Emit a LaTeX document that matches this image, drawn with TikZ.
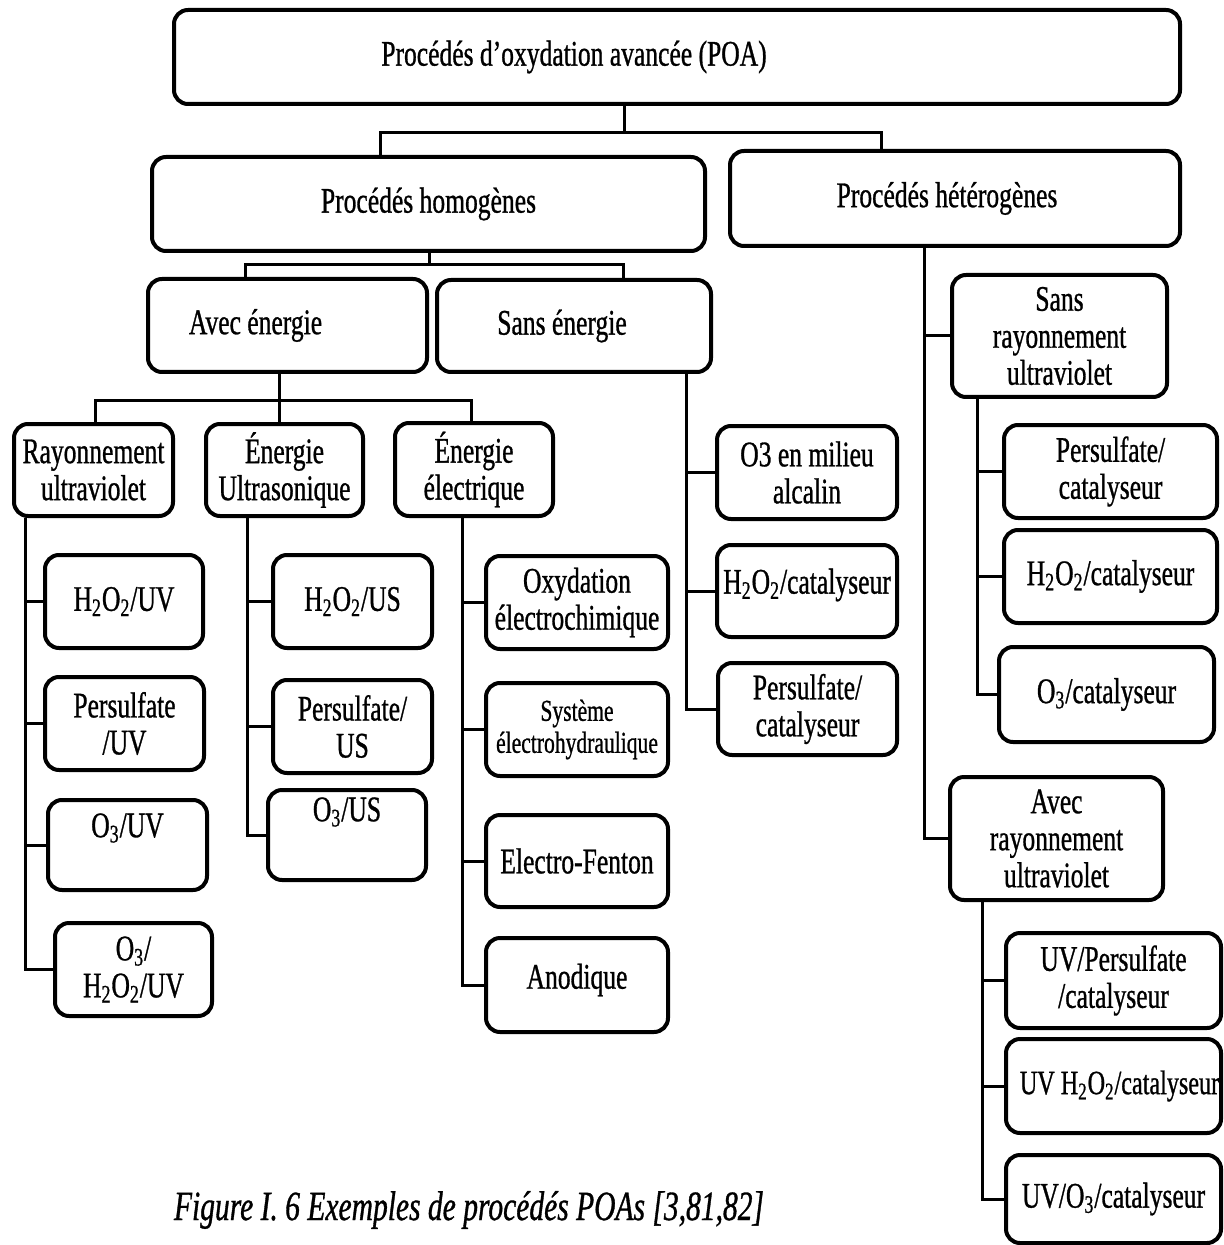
\documentclass[tikz,border=0pt]{standalone}
\usepackage{fontspec}
\setmainfont{Liberation Serif}[FakeStretch=0.71,FakeBold=0.8]

\begin{document}
\begin{tikzpicture}[x=0.5pt,y=-0.5pt,
  box/.style={draw,line width=2pt,rounded corners=7pt,align=center,
    inner sep=0pt,font=\fontsize{18}{18.5}\selectfont},
  wh/.style 2 args={minimum width=#1*0.5pt,minimum height=#2*0.5pt},
  small/.style={font=\fontsize{15.2}{16}\selectfont},
  link/.style={line width=1.5pt}]
  \useasboundingbox[fill=white] (0,0) rectangle (1223,1245);
  % --- top levels ---
  \node[box,wh={1006}{94}] (poa) at (677,57)
       {Procédés d'oxydation avancée (POA)\rule{103pt}{0pt}};
  \node[box,wh={553}{94}] (homo) at (428.5,204) {Procédés homogènes};
  \node[box,wh={450}{95}] (het) at (955,198.5) {Procédés hétérogènes\rule{8pt}{0pt}};
  \node[box,wh={279}{93}] (avec) at (287.5,325.5) {Avec énergie\rule{32pt}{0pt}};
  \node[box,wh={274}{92}] (sans) at (574,326) {Sans énergie\rule{12pt}{0pt}};
  % --- avec energie ---
  \node[box,wh={159}{92}] (ray) at (93.5,470) {Rayonnement\\ultraviolet};
  \node[box,wh={157}{92}] (ultra) at (284.5,470) {Énergie\\Ultrasonique};
  \node[box,wh={158}{93}] (elec) at (474,469.5) {Énergie\\électrique};
  % rayonnement column
  \node[box,wh={158}{93}] (h2o2uv) at (124,601.5)
       {H\textsubscript{2}O\textsubscript{2}/UV};
  \node[box,wh={159}{93}] (persuv) at (124.5,723.5) {Persulfate\\/UV};
  \node[box,wh={159}{90}] (o3uv) at (127.5,845)
       {\raisebox{8.5pt}[\height][\depth]{O\textsubscript{3}/UV}};
  \node[box,wh={157}{93}] (o3h2o2uv) at (133.5,969.5)
       {O\textsubscript{3}/\\H\textsubscript{2}O\textsubscript{2}/UV};
  % ultrasons column
  \node[box,wh={159}{93}] (h2o2us) at (352.5,601.5)
       {H\textsubscript{2}O\textsubscript{2}/US};
  \node[box,wh={159}{93}] (persus) at (352.5,726.5) {Persulfate/\\US};
  \node[box,wh={158}{90}] (o3us) at (347,835)
       {\raisebox{11.5pt}[\height][\depth]{O\textsubscript{3}/US}};
  % electrique column
  \node[box,wh={182}{93}] (oxy) at (577,602.5) {Oxydation\\électrochimique};
  \node[box,small,wh={182}{93}] (syst) at (577,729.5) {Système\\électrohydraulique};
  \node[box,wh={182}{92}] (fenton) at (577,861) {Electro-Fenton};
  \node[box,wh={182}{94}] (anod) at (577,985)
       {\raisebox{2.5pt}[\height][\depth]{Anodique}};
  % --- sans energie ---
  \node[box,wh={180}{93}] (o3alc) at (807,472.5) {O3 en milieu\\alcalin};
  \node[box,wh={180}{92}] (h2o2cat) at (807,591)
       {\raisebox{3pt}[\height][\depth]{H\textsubscript{2}O\textsubscript{2}/catalyseur}};
  \node[box,wh={179}{92}] (perscat) at (807.5,709) {Persulfate/\\catalyseur};
  % --- heterogenes ---
  \node[box,wh={215}{122}] (sansray) at (1059.5,336) {Sans\\rayonnement\\ultraviolet};
  \node[box,wh={213}{93}] (perscatb) at (1110.5,471.5) {Persulfate/\\catalyseur};
  \node[box,wh={213}{93}] (h2o2catb) at (1110.5,576.5)
       {H\textsubscript{2}O\textsubscript{2}/catalyseur};
  \node[box,wh={215}{95}] (o3catb) at (1106.5,694.5) {O\textsubscript{3}/catalyseur};
  \node[box,wh={213}{123}] (avecray) at (1056.5,838.5) {Avec\\rayonnement\\ultraviolet};
  \node[box,wh={215}{95}] (uvpers) at (1113.5,980.5) {UV/Persulfate\\/catalyseur};
  \node[box,wh={215}{94},font=\fontsize{17}{18.5}\selectfont] (uvh2o2) at (1113.5,1086)
       {\rule{6pt}{0pt}UV H\textsubscript{2}O\textsubscript{2}/catalyseur};
  \node[box,wh={215}{88}] (uvo3) at (1113.5,1199)
       {UV/O\textsubscript{3}/catalyseur};
  % --- connectors ---
  \coordinate (tPoa) at (624,133);
  \coordinate (kHomo) at (380,133); \coordinate (kHet) at (881,133);
  \draw[link] (poa.south -| tPoa) -- (tPoa);
  \draw[link] (homo.north -| kHomo) -- (kHomo) -- (kHet) -- (het.north -| kHet);
  \coordinate (tHomo) at (429,265);
  \coordinate (kAvec) at (245,265); \coordinate (kSans) at (623,265);
  \draw[link] (homo.south -| tHomo) -- (tHomo);
  \draw[link] (avec.north -| kAvec) -- (kAvec) -- (kSans) -- (sans.north -| kSans);
  \coordinate (tAvec) at (279,401);
  \coordinate (kRay) at (95,401); \coordinate (kElec) at (471,401);
  \draw[link] (avec.south -| tAvec) -- (ultra.north -| tAvec);
  \draw[link] (ray.north -| kRay) -- (kRay) -- (kElec) -- (elec.north -| kElec);
  % spines: parent, spine x, last child, other children
  \foreach \p/\s/\l/\cs in {ray/25/o3h2o2uv/{h2o2uv,persuv,o3uv},
      ultra/247/o3us/{h2o2us,persus},
      elec/462/anod/{oxy,syst,fenton},
      sans/686/perscat/{o3alc,h2o2cat},
      het/924/avecray/{sansray},
      sansray/977/o3catb/{perscatb,h2o2catb},
      avecray/982/uvo3/{uvpers,uvh2o2}}{
    \coordinate (sp) at (\s,0);
    \draw[link] (\p.south -| sp) -- (sp |- \l.west) -- (\l.west);
    \foreach \c in \cs
      \draw[link] (sp |- \c.west) -- (\c.west);}
  % --- caption ---
  \node[font=\itshape\fontsize{20.8}{24}\selectfont] (caption) at (469,1210)
       {Figure I. 6 Exemples de procédés POAs [3,81,82]};
\end{tikzpicture}
\end{document}
